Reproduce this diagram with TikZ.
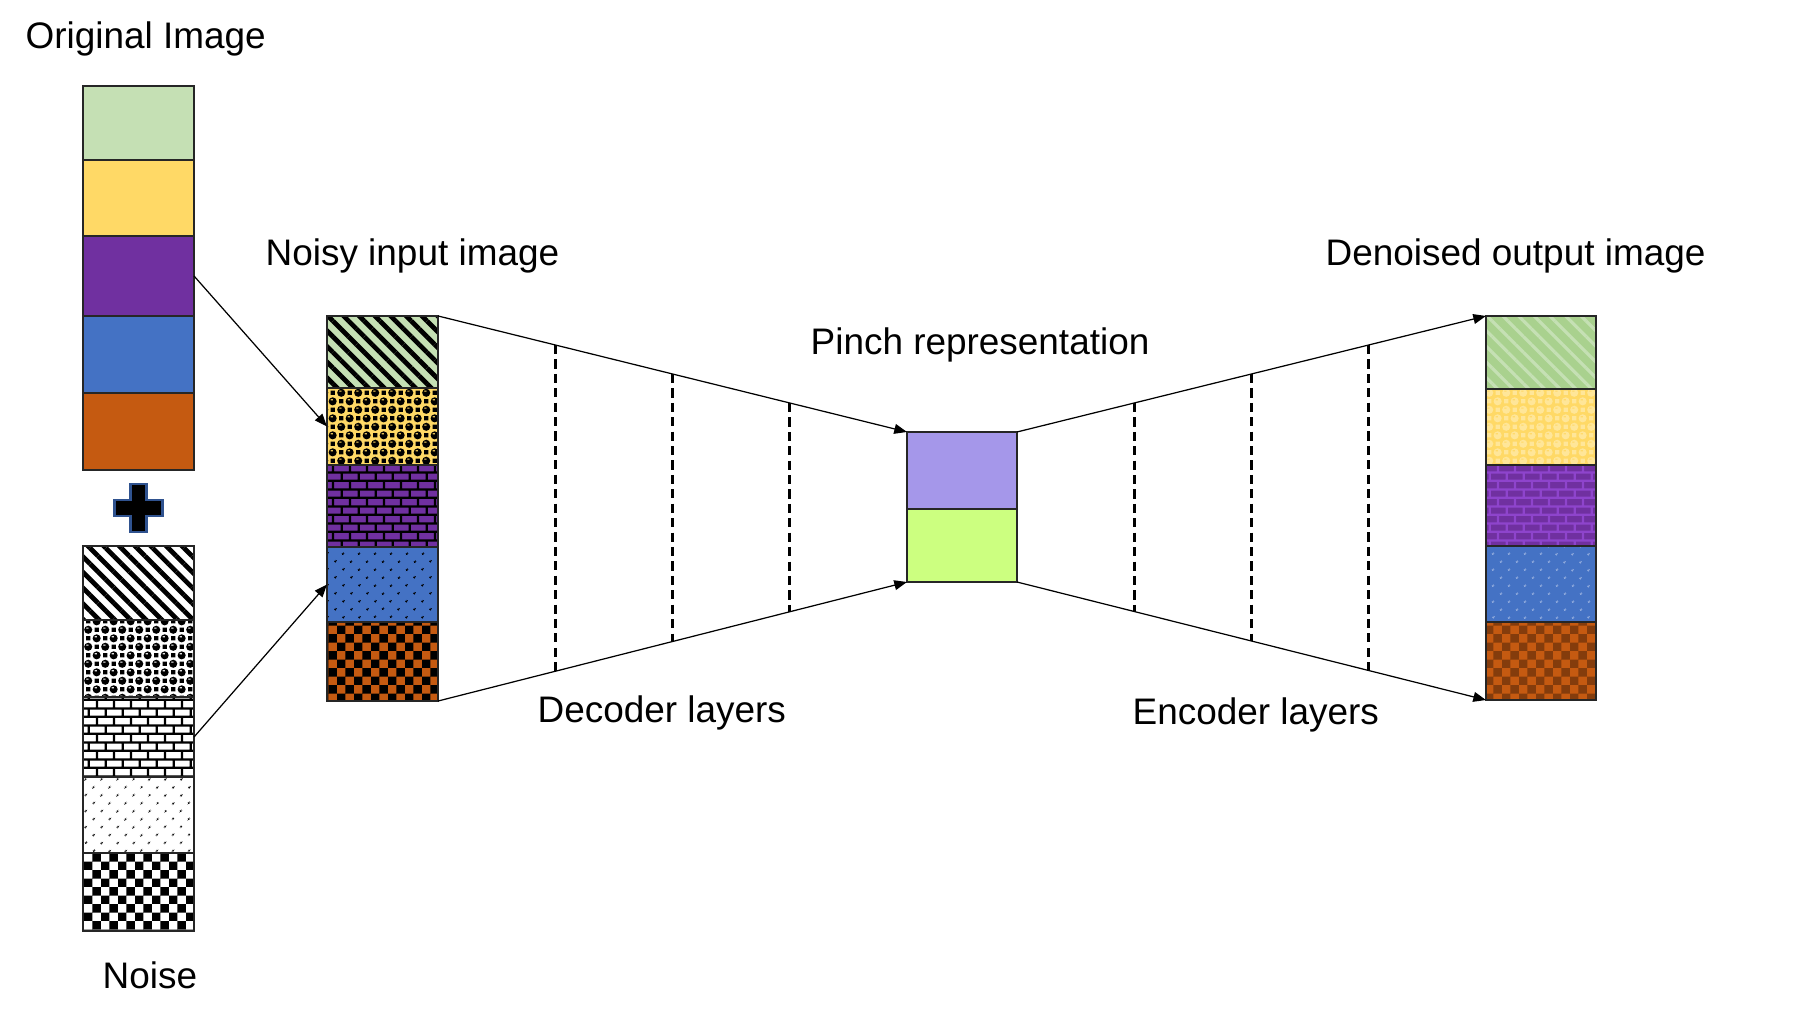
\documentclass[tikz,border=0pt]{standalone}
\usepackage{fontspec}
\setmainfont{Liberation Sans}
\usetikzlibrary{patterns,patterns.meta,arrows.meta,calc}

\definecolor{imggreen}{HTML}{C5E0B4}
\definecolor{imgyellow}{HTML}{FFD966}
\definecolor{imgpurple}{HTML}{7030A0}
\definecolor{imgblue}{HTML}{4472C4}
\definecolor{imgorange}{HTML}{C55A11}
\definecolor{outgreen}{HTML}{A9D18E}
\definecolor{outyellow}{HTML}{FFE699}
\definecolor{outpurple}{HTML}{8E44CC}
\definecolor{outblue}{HTML}{8FAADC}
\definecolor{outorange}{HTML}{843C0C}
\definecolor{pinchtop}{HTML}{A597EA}
\definecolor{pinchbot}{HTML}{CCFF80}
\definecolor{plusedge}{HTML}{2F528F}

\pgfdeclarepatternformonly{checker}{\pgfpointorigin}{\pgfqpoint{4.8pt}{4.8pt}}{\pgfqpoint{4.8pt}{4.8pt}}{%
  \pgfpathrectangle{\pgfpointorigin}{\pgfqpoint{2.4pt}{2.4pt}}%
  \pgfpathrectangle{\pgfqpoint{2.4pt}{2.4pt}}{\pgfqpoint{2.4pt}{2.4pt}}%
  \pgfusepath{fill}}
\pgfdeclarepatternformonly{brickwall}{\pgfpointorigin}{\pgfqpoint{4.8pt}{4.8pt}}{\pgfqpoint{4.8pt}{4.8pt}}{%
  \pgfpathrectangle{\pgfpointorigin}{\pgfqpoint{4.8pt}{0.65pt}}%
  \pgfpathrectangle{\pgfqpoint{0pt}{2.4pt}}{\pgfqpoint{4.8pt}{0.65pt}}%
  \pgfpathrectangle{\pgfqpoint{1pt}{0.6pt}}{\pgfqpoint{0.65pt}{1.85pt}}%
  \pgfpathrectangle{\pgfqpoint{3.4pt}{3pt}}{\pgfqpoint{0.65pt}{1.85pt}}%
  \pgfusepath{fill}}
\pgfdeclarepatternformonly{spheres}{\pgfpointorigin}{\pgfqpoint{4.8pt}{4.8pt}}{\pgfqpoint{4.8pt}{4.8pt}}{%
  \pgfseteorule
  \pgfpathcircle{\pgfqpoint{1.2pt}{1.2pt}}{1.15pt}%
  \pgfpathrectangle{\pgfqpoint{0.6pt}{1.5pt}}{\pgfqpoint{0.7pt}{0.3pt}}%
  \pgfpathcircle{\pgfqpoint{3.6pt}{3.6pt}}{1.15pt}%
  \pgfpathrectangle{\pgfqpoint{3pt}{3.9pt}}{\pgfqpoint{0.7pt}{0.3pt}}%
  \pgfpathrectangle{\pgfqpoint{3pt}{0.6pt}}{\pgfqpoint{1.2pt}{1.2pt}}%
  \pgfpathrectangle{\pgfqpoint{0.6pt}{3pt}}{\pgfqpoint{1.2pt}{1.2pt}}%
  \pgfusepath{fill}}

\tikzset{
  cell/.style={draw=black!85, line width=0.5pt, minimum width=1.11cm, inner sep=0pt, outer sep=0pt},
  lbl/.style={font=\fontsize{10.5}{12.6}\selectfont, anchor=base west, inner sep=0pt},
  stripes/.style={pattern={Lines[angle=-45, distance=3.15pt, line width=1.35pt]}},
  softstripes/.style={pattern={Lines[angle=-45, distance=3.15pt, line width=0.9pt]}},
  dotgrid/.style={pattern={Dots[angle=45, distance=3.35pt, radius=0.4pt]}},
  layer/.style={line width=0.85pt, dash pattern=on 2.6pt off 1.5pt},
  link/.style={line width=0.35pt, -{Triangle[length=3.6pt, width=2.8pt]}}
}

\begin{document}
\begin{tikzpicture}[x=0.01cm, y=-0.01cm]
            \useasboundingbox (0, 0) rectangle (1818, 1022);

            \node[cell, fill=imggreen, minimum height=0.74cm] (o1) at (138.5, 123) {};
            \node[cell, fill=imgyellow, minimum height=0.76cm] (o2) at (138.5, 198) {};
            \node[cell, fill=imgpurple, minimum height=0.80cm] (o3) at (138.5, 276) {};
            \node[cell, fill=imgblue, minimum height=0.77cm] (o4) at (138.5, 354.5) {};
            \node[cell, fill=imgorange, minimum height=0.77cm] (o5) at (138.5, 431.5) {};

            \draw[fill=black, draw=plusedge, line width=0.6pt] (130.5, 484) -- (146.5, 484) -- (146.5, 500) -- (162.5, 500) -- (162.5, 516) -- (146.5, 516) -- (146.5, 532) -- (130.5, 532) -- (130.5, 516) -- (114.5, 516) -- (114.5, 500) -- (130.5, 500) -- cycle;

            \node[cell, preaction={fill=white}, stripes, pattern color=black, minimum height=0.74cm] (z1) at (138.5, 583) {};
            \node[cell, preaction={fill=white}, pattern=spheres, pattern color=black, minimum height=0.77cm] (z2) at (138.5, 658.5) {};
            \node[cell, preaction={fill=white}, pattern=brickwall, pattern color=black, minimum height=0.80cm] (z3) at (138.5, 737) {};
            \node[cell, preaction={fill=white}, dotgrid, pattern color=black, minimum height=0.76cm] (z4) at (138.5, 815) {};
            \node[cell, preaction={fill=white}, pattern=checker, pattern color=black, minimum height=0.78cm] (z5) at (138.5, 892) {};

            \node[cell, preaction={fill=imggreen}, stripes, pattern color=black, minimum height=0.72cm] (n1) at (382.5, 352) {};
            \node[cell, preaction={fill=imgyellow}, pattern=spheres, pattern color=black, minimum height=0.77cm] (n2) at (382.5, 426.5) {};
            \node[cell, preaction={fill=imgpurple}, pattern=brickwall, pattern color=black, minimum height=0.82cm] (n3) at (382.5, 506) {};
            \node[cell, preaction={fill=imgblue}, dotgrid, pattern color=black, minimum height=0.75cm] (n4) at (382.5, 584.5) {};
            \node[cell, preaction={fill=imgorange}, pattern=checker, pattern color=black, minimum height=0.79cm] (n5) at (382.5, 661.5) {};

            \node[cell, fill=pinchtop, minimum height=0.77cm, minimum width=1.10cm] (p1) at (962, 470.5) {};
            \node[cell, fill=pinchbot, minimum height=0.73cm, minimum width=1.10cm] (p2) at (962, 545.5) {};

            \node[cell, preaction={fill=outgreen}, softstripes, pattern color=imggreen, minimum height=0.73cm, minimum width=1.10cm] (d1) at (1541, 352.5) {};
            \node[cell, preaction={fill=imgyellow}, pattern=spheres, pattern color=outyellow, minimum height=0.76cm, minimum width=1.10cm] (d2) at (1541, 427) {};
            \node[cell, preaction={fill=imgpurple}, pattern=brickwall, pattern color=outpurple, minimum height=0.81cm, minimum width=1.10cm] (d3) at (1541, 505.5) {};
            \node[cell, preaction={fill=imgblue}, dotgrid, pattern color=outblue, minimum height=0.76cm, minimum width=1.10cm] (d4) at (1541, 584) {};
            \node[cell, preaction={fill=imgorange}, pattern=checker, pattern color=outorange, minimum height=0.78cm, minimum width=1.10cm] (d5) at (1541, 661) {};

            \node[lbl] (origtext) at (25, 49) {Original Image};
            \node[lbl] (noisetext) at (102, 988) {Noise};
            \node[lbl] (noisytext) at (265, 266) {Noisy input image};
            \node[lbl] (pinchtext) at (810, 355) {Pinch representation};
            \node[lbl] (dectext) at (537, 723) {Decoder layers};
            \node[lbl] (enctext) at (1132, 725) {Encoder layers};
            \node[lbl] (outtext) at (1325, 266) {Denoised output image};

            \draw[link] (o3.east) -- (n2.west);
            \draw[link] (z3.east) -- (n4.west);
            \draw[link] (n1.north east) -- (p1.north west);
            \draw[link] (n5.south east) -- (p2.south west);
            \draw[link] (p1.north east) -- (d1.north west);
            \draw[link] (p2.south east) -- (d5.south west);

            \draw[layer] ($(n1.north east)!0.25!(p1.north west)$) -- ($(n5.south east)!0.25!(p2.south west)$);
            \draw[layer] ($(n1.north east)!0.5!(p1.north west)$) -- ($(n5.south east)!0.5!(p2.south west)$);
            \draw[layer] ($(n1.north east)!0.75!(p1.north west)$) -- ($(n5.south east)!0.75!(p2.south west)$);
            \draw[layer] ($(p1.north east)!0.25!(d1.north west)$) -- ($(p2.south east)!0.25!(d5.south west)$);
            \draw[layer] ($(p1.north east)!0.5!(d1.north west)$) -- ($(p2.south east)!0.5!(d5.south west)$);
            \draw[layer] ($(p1.north east)!0.75!(d1.north west)$) -- ($(p2.south east)!0.75!(d5.south west)$);
        \end{tikzpicture}
\end{document}
